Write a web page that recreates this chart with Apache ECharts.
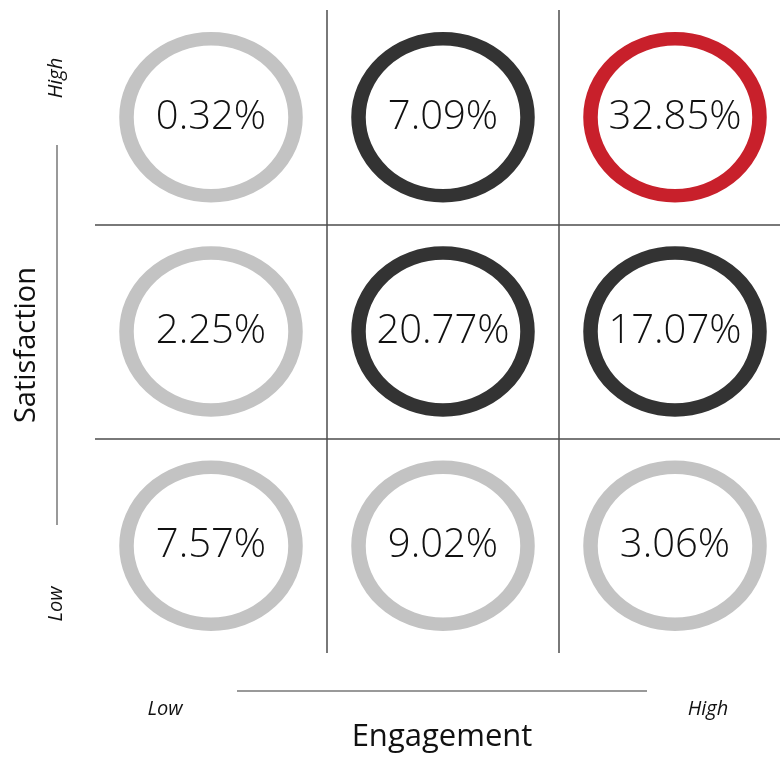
<!DOCTYPE html>
<html>

<head>
    <meta charset="utf-8">
    <title>Engagement vs Satisfaction</title>
    <style>
        html, body {
            margin: 0;
            padding: 0;
            background: #fff;
        }

        #main {
            width: 780px;
            height: 757px;
        }
    </style>
</head>

<body>
    <div id="main"></div>

    <script src="https://cdn.jsdelivr.net/npm/echarts@6/dist/echarts.min.js"></script>
    <script>
        // columns = engagement, rows = satisfaction (low -> high)
        var engagementLevels = ['Low', 'Medium', 'High'];
        var satisfactionLevels = ['Low', 'Medium', 'High'];

        // share of respondents per cell, one array per satisfaction row
        var lowSatisfaction = [7.57, 9.02, 3.06];
        var midSatisfaction = [2.25, 20.77, 17.07];
        var highSatisfaction = [0.32, 7.09, 32.85];

        // ring colour group per cell
        var lowTier = ['light', 'light', 'light'];
        var midTier = ['light', 'dark', 'dark'];
        var highTier = ['light', 'dark', 'accent'];

        var tierColors = {
            light: '#c3c3c3',
            dark: '#333333',
            accent: '#c8202b'
        };

        var rows = [lowSatisfaction, midSatisfaction, highSatisfaction];
        var tiers = [lowTier, midTier, highTier];

        // build scatter points: cell centre + value
        var points = [];
        rows.forEach(function (row, y) {
            row.forEach(function (v, x) {
                points.push({
                    value: [x + 0.5, y + 0.5, v],
                    name: engagementLevels[x] + ' / ' + satisfactionLevels[y],
                    itemStyle: { borderColor: tierColors[tiers[y][x]] }
                });
            });
        });

        var font = '"Open Sans", "Noto Sans", sans-serif';
        var lineColor = '#4d4d4d';

        var chartDom = document.getElementById('main');
        var myChart = echarts.init(chartDom, null, { renderer: 'canvas' });
        var option;

        option = {
            animation: false,
            backgroundColor: '#ffffff',
            grid: {
                left: 95,
                width: 696,
                top: 10,
                height: 643,
                outerBoundsMode: 'none'
            },
            xAxis: {
                type: 'value',
                min: 0,
                max: engagementLevels.length,
                interval: 1,
                axisLine: { show: false },
                axisTick: { show: false },
                axisLabel: { show: false },
                splitLine: { show: false }
            },
            yAxis: {
                type: 'value',
                min: 0,
                max: satisfactionLevels.length,
                interval: 1,
                axisLine: { show: false },
                axisTick: { show: false },
                axisLabel: { show: false },
                splitLine: { show: false }
            },
            series: [
                {
                    type: 'scatter',
                    symbol: 'circle',
                    symbolSize: [169, 157],
                    itemStyle: {
                        color: 'rgba(0,0,0,0)',
                        borderWidth: 14,
                        opacity: 1
                    },
                    label: {
                        show: true,
                        position: 'inside',
                        fontFamily: font,
                        fontSize: 40,
                        fontWeight: 300,
                        color: '#111111',
                        formatter: function (p) {
                            return p.value[2].toFixed(2) + '%';
                        }
                    },
                    emphasis: { disabled: true },
                    data: points,
                    markLine: {
                        silent: true,
                        symbol: ['none', 'none'],
                        label: { show: false },
                        lineStyle: {
                            color: lineColor,
                            width: 1.5,
                            type: 'solid'
                        },
                        data: [
                            { xAxis: 1 },
                            { xAxis: 2 },
                            { yAxis: 1 },
                            { yAxis: 2 }
                        ]
                    }
                }
            ],
            graphic: [
                // satisfaction axis (left)
                {
                    type: 'line',
                    shape: { x1: 57, y1: 145, x2: 57, y2: 525 },
                    style: { stroke: '#777', lineWidth: 1.5 }
                },
                {
                    type: 'text',
                    x: 27, y: 345,
                    rotation: Math.PI / 2,
                    style: {
                        text: 'Satisfaction',
                        font: '29px ' + font,
                        fill: '#111',
                        textAlign: 'center',
                        textVerticalAlign: 'middle'
                    }
                },
                {
                    type: 'text',
                    x: 56, y: 78,
                    rotation: Math.PI / 2,
                    style: {
                        text: 'High',
                        font: 'italic 20px ' + font,
                        fill: '#111',
                        textAlign: 'center',
                        textVerticalAlign: 'middle'
                    }
                },
                {
                    type: 'text',
                    x: 56, y: 604,
                    rotation: Math.PI / 2,
                    style: {
                        text: 'Low',
                        font: 'italic 20px ' + font,
                        fill: '#111',
                        textAlign: 'center',
                        textVerticalAlign: 'middle'
                    }
                },
                // engagement axis (bottom)
                {
                    type: 'line',
                    shape: { x1: 237, y1: 691, x2: 647, y2: 691 },
                    style: { stroke: '#777', lineWidth: 1.5 }
                },
                {
                    type: 'text',
                    x: 442, y: 737,
                    style: {
                        text: 'Engagement',
                        font: '31px ' + font,
                        fill: '#111',
                        textAlign: 'center',
                        textVerticalAlign: 'middle'
                    }
                },
                {
                    type: 'text',
                    x: 165, y: 709,
                    style: {
                        text: 'Low',
                        font: 'italic 20px ' + font,
                        fill: '#111',
                        textAlign: 'center',
                        textVerticalAlign: 'middle'
                    }
                },
                {
                    type: 'text',
                    x: 708, y: 709,
                    style: {
                        text: 'High',
                        font: 'italic 20px ' + font,
                        fill: '#111',
                        textAlign: 'center',
                        textVerticalAlign: 'middle'
                    }
                }
            ]
        };

        option && myChart.setOption(option);
    </script>
</body>

</html>
